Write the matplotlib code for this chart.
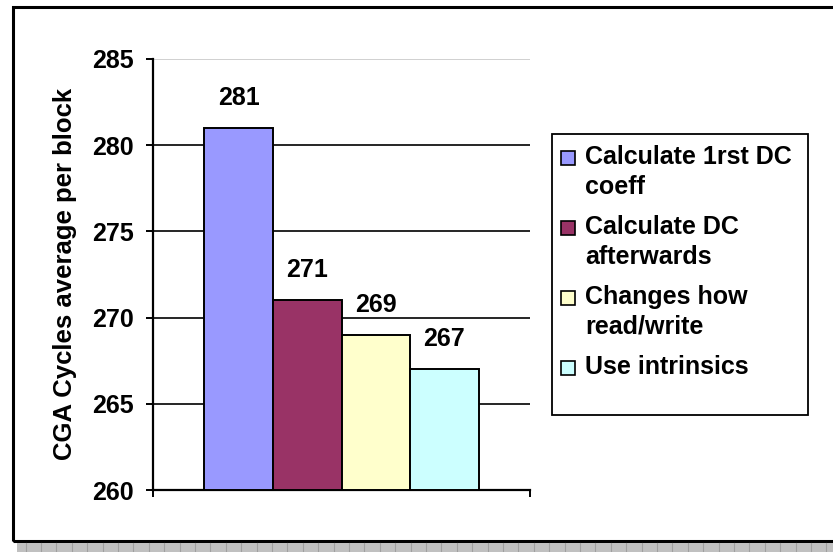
import numpy as np
import matplotlib.pyplot as plt
from matplotlib.patches import Rectangle
from matplotlib.lines import Line2D

plt.rcParams['font.family'] = ['Liberation Sans', 'DejaVu Sans']
plt.rcParams['font.weight'] = 'bold'
plt.rcParams['font.size'] = 18

series = ['Calculate 1rst DC\ncoeff', 'Calculate DC\nafterwards',
          'Changes how\nread/write', 'Use intrinsics']
values = [281, 271, 269, 267]
colors = ['#9999FF', '#993366', '#FFFFCC', '#CCFFFF']
yticks = [260, 265, 270, 275, 280, 285]
ylabel = 'CGA Cycles average per block'

W, H = 833, 552


def fx(x):
    return x / W


def fy(y):
    return 1 - y / H


fig = plt.figure(figsize=(W / 100, H / 100), dpi=100)
ax = fig.add_axes([fx(153), fy(490), fx(530) - fx(153), fy(59) - fy(490)])

w = 0.1817
for i, (v, c) in enumerate(zip(values, colors)):
    x = (i - 1.5) * w
    ax.bar(x, v - yticks[0], bottom=yticks[0], width=w, color=c,
           edgecolor='black', linewidth=1.4, zorder=3)
    ax.annotate(str(v), (x, v), xytext=(0, 21.6), textcoords='offset points',
                ha='center', va='center', fontsize=18, fontweight='bold')

ax.set_xlim(-0.5, 0.5)
ax.set_ylim(yticks[0], yticks[-1])
ax.set_yticks(yticks)
ax.set_xticks([-0.5, 0.5])
ax.set_xticklabels([])
ax.tick_params(axis='y', direction='out', length=5.3, width=1.4, pad=8.5,
               labelsize=18)
ax.tick_params(axis='x', direction='out', length=5, width=1.4)
for s in ['top', 'right']:
    ax.spines[s].set_visible(False)
for s in ['left', 'bottom']:
    ax.spines[s].set_linewidth(1.6)
ax.grid(axis='y', color='black', linewidth=1.2, zorder=0)
ax.set_axisbelow(True)
ax.get_ygridlines()[-1].set_color('#C8C8C8')

fig.text(fx(65), fy(273.5), ylabel, rotation=90, ha='center', va='center',
         fontsize=18.5, fontweight='bold')

# legend drawn by hand so the swatch sits on the first line of each label
fig.patches.append(Rectangle((fx(551.7), fy(415)), fx(808.3) - fx(551.7),
                             fy(134) - fy(415), transform=fig.transFigure,
                             facecolor='white', edgecolor='black', linewidth=1.3))
y = 156.7
for name, c in zip(series, colors):
    fig.patches.append(Rectangle((fx(561), fy(165)  + (fy(y + 1.5) - fy(158.3))),
                                 fx(575) - fx(561), fy(151.5) - fy(165),
                                 transform=fig.transFigure, facecolor=c,
                                 edgecolor='black', linewidth=1.2))
    for line in name.split('\n'):
        fig.text(fx(585), fy(y), line, ha='left', va='center',
                 fontsize=18, fontweight='bold')
        y += 30
    y += 10

# chart area border and the grey strip below it
fig.patches.append(Rectangle((fx(12.5), fy(541)), fx(850) - fx(12.5),
                             fy(6.5) - fy(541), transform=fig.transFigure,
                             facecolor='none', edgecolor='black', linewidth=2.2))
fig.patches.append(Rectangle((fx(17), fy(553)), fx(850) - fx(17),
                             fy(543) - fy(553), transform=fig.transFigure,
                             facecolor='#C0C0C0', edgecolor='none'))
for gx in np.arange(703.3 - 15.4 * 44, 840, 15.4):
    fig.add_artist(Line2D([fx(gx), fx(gx)], [fy(543), fy(553)],
                          color='#A0A0A0', linewidth=0.8))

fig.savefig('out.png', dpi=100)
